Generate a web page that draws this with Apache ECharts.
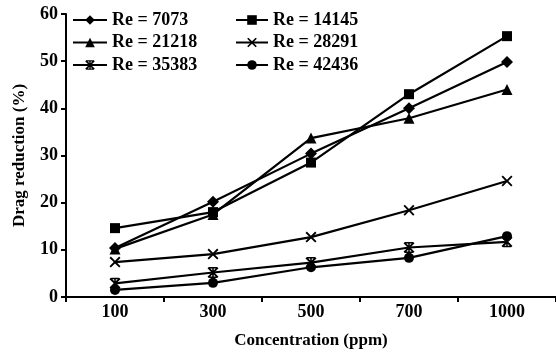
<!DOCTYPE html>
<html>
<head>
<meta charset="utf-8">
<script src="https://cdn.jsdelivr.net/npm/echarts@6/dist/echarts.min.js"></script>
<style>html,body{margin:0;padding:0;background:#fff}#c{width:556px;height:354px}</style>
</head>
<body>
<div id="c"></div>
<script>
var categories = ['100', '300', '500', '700', '1000'];
var re7073  = [10.4, 20.2, 30.4, 40.0, 49.8];
var re14145 = [14.6, 18.0, 28.5, 43.0, 55.3];
var re21218 = [10.2, 17.5, 33.7, 37.9, 44.0];
var re28291 = [7.4, 9.1, 12.7, 18.4, 24.6];
var re35383 = [2.9, 5.2, 7.3, 10.5, 11.7];
var re42436 = [1.5, 3.0, 6.3, 8.3, 12.9];
var seriesNames = ['Re = 7073', 'Re = 14145', 'Re = 21218', 'Re = 28291', 'Re = 35383', 'Re = 42436'];
var yTicks = [0, 10, 20, 30, 40, 50, 60];

var xPath = 'path://M0,1.2 L1.2,0 L5,3.8 L8.8,0 L10,1.2 L6.2,5 L10,8.8 L8.8,10 L5,6.2 L1.2,10 L0,8.8 L3.8,5 Z';
var starPath = 'path://M0,1.2 L1.2,0 L5,3.8 L8.8,0 L10,1.2 L6.2,5 L10,8.8 L8.8,10 L5,6.2 L1.2,10 L0,8.8 L3.8,5 Z M4.3,0 L5.7,0 L5.7,10 L4.3,10 Z M1.5,0 L8.5,0 L8.5,1.4 L1.5,1.4 Z M1.5,8.6 L8.5,8.6 L8.5,10 L1.5,10 Z';

var symbols = ['diamond', 'rect', 'triangle', xPath, starPath, 'circle'];
var sizes = [12, 10, 11, 11, 11, 10];
var values = [re7073, re14145, re21218, re28291, re35383, re42436];

var chart = echarts.init(document.getElementById('c'), null, {renderer: 'canvas'});
var font = 'Liberation Serif';
var series = seriesNames.map(function (n, i) {
  return {
    name: n, type: 'line', data: values[i],
    symbol: symbols[i], symbolSize: sizes[i], showAllSymbol: true,
    lineStyle: {color: '#000', width: 2.2},
    itemStyle: {color: '#000', borderWidth: 0},
    emphasis: {disabled: true},
    animation: false, z: 3
  };
});
var legendText = {fontFamily: font, fontWeight: 'bold', fontSize: 18, color: '#000'};
chart.setOption({
  backgroundColor: '#fff',
  animation: false,
  grid: {left: 66, right: 0, top: 14, bottom: 57, containLabel: false},
  legend: [
    {data: [seriesNames[0], seriesNames[2], seriesNames[4]], orient: 'vertical', left: 72, top: 11,
     itemWidth: 34, itemHeight: 12, itemGap: 4.5, textStyle: legendText, padding: 0},
    {data: [seriesNames[1], seriesNames[3], seriesNames[5]], orient: 'vertical', left: 235, top: 11,
     itemWidth: 32, itemHeight: 12, itemGap: 4.5, textStyle: legendText, padding: 0}
  ],
  xAxis: {
    type: 'category', data: categories, boundaryGap: true,
    name: 'Concentration (ppm)', nameLocation: 'middle', nameGap: 35,
    nameTextStyle: {fontFamily: font, fontWeight: 'bold', fontSize: 17, color: '#000'},
    axisLine: {lineStyle: {color: '#000', width: 2}},
    axisTick: {show: true, length: 5, lineStyle: {color: '#000', width: 2}, alignWithLabel: false},
    axisLabel: {fontFamily: font, fontWeight: 'bold', fontSize: 18, color: '#000', margin: 6},
    splitLine: {show: false}
  },
  yAxis: {
    type: 'value', min: 0, max: 60, interval: 10,
    name: 'Drag reduction (%)', nameLocation: 'middle', nameGap: 38, nameRotate: 90,
    nameTextStyle: {fontFamily: font, fontWeight: 'bold', fontSize: 17, color: '#000'},
    axisLine: {show: true, lineStyle: {color: '#000', width: 2}},
    axisTick: {show: true, length: 5, lineStyle: {color: '#000', width: 2}},
    axisLabel: {fontFamily: font, fontWeight: 'bold', fontSize: 18, color: '#000', margin: 8,
      formatter: function (v) { return yTicks.indexOf(v) >= 0 ? String(v) : ''; }},
    splitLine: {show: false}
  },
  series: series
});
</script>
</body>
</html>
